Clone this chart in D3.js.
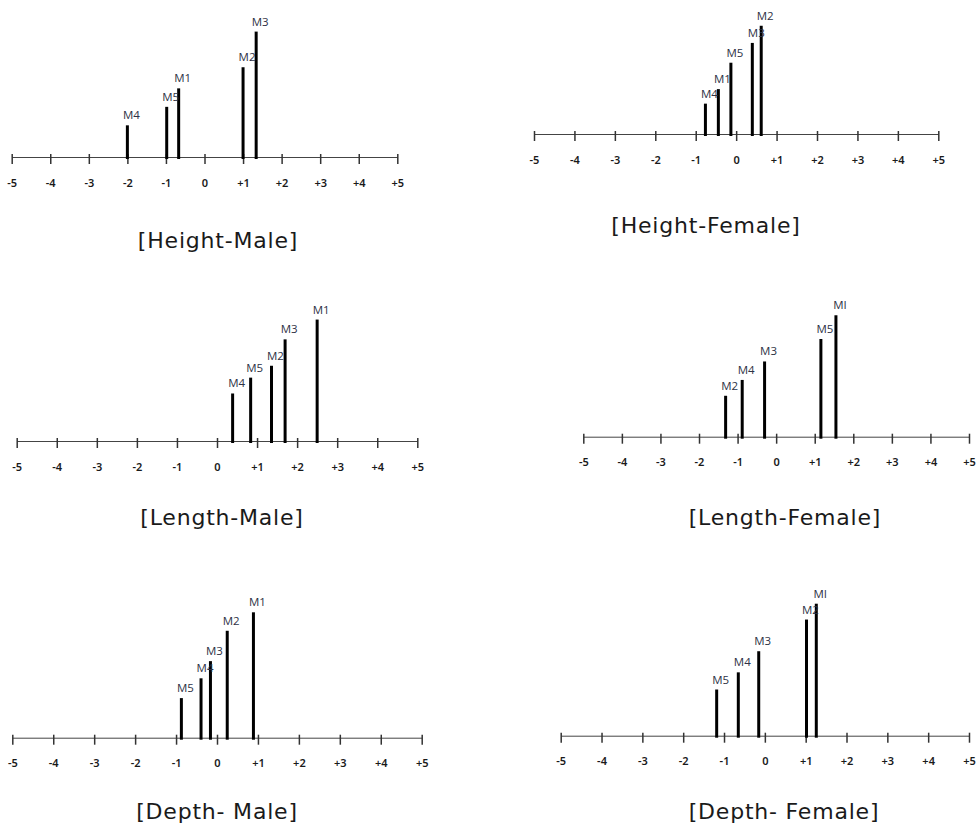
<!DOCTYPE html>
<html>
<head>
<meta charset="utf-8">
<script src="https://cdn.jsdelivr.net/npm/d3@7"></script>
<style>
  body { margin: 0; background: #fff; }
  svg { display: block; }
</style>
</head>
<body>
<svg id="chart" width="978" height="831"></svg>
<script>
// tick values and their printed labels
const tickValues = [-5, -4, -3, -2, -1, 0, 1, 2, 3, 4, 5];
const tickLabels = ["-5", "-4", "-3", "-2", "-1", "0", "+1", "+2", "+3", "+4", "+5"];

// Height - Male
const heightMaleNames = ["M4", "M5", "M1", "M2", "M3"];
const heightMaleScore = [-2.0, -0.98, -0.67, 1.0, 1.34];
const heightMaleValue = [24, 38, 52, 68, 95];

// Height - Female
const heightFemaleNames = ["M4", "M1", "M5", "M3", "M2"];
const heightFemaleScore = [-0.76, -0.44, -0.13, 0.4, 0.62];
const heightFemaleValue = [23, 34, 54, 69, 82];

// Length - Male
const lengthMaleNames = ["M4", "M5", "M2", "M3", "M1"];
const lengthMaleScore = [0.39, 0.84, 1.36, 1.7, 2.5];
const lengthMaleValue = [36, 48, 57, 77, 92];

// Length - Female
const lengthFemaleNames = ["M2", "M4", "M3", "M5", "MI"];
const lengthFemaleScore = [-1.31, -0.88, -0.3, 1.16, 1.55];
const lengthFemaleValue = [31, 43, 57, 74, 92];

// Depth - Male
const depthMaleNames = ["M5", "M4", "M3", "M2", "M1"];
const depthMaleScore = [-0.87, -0.39, -0.16, 0.25, 0.89];
const depthMaleValue = [30, 45, 58, 81, 95];

// Depth - Female
const depthFemaleNames = ["M5", "M4", "M3", "M2", "MI"];
const depthFemaleScore = [-1.18, -0.65, -0.15, 1.02, 1.26];
const depthFemaleValue = [35, 48, 64, 88, 100];

const zip = (names, xs, ys) => names.map((n, i) => ({ name: n, x: xs[i], v: ys[i] }));

// layout of the six small panels
const panels = [
  { title: "[Height-Male]", data: zip(heightMaleNames, heightMaleScore, heightMaleValue),
    left: 11.7, right: 397.3, axisY: 157, capX: 218, capY: 248 },
  { title: "[Height-Female]", data: zip(heightFemaleNames, heightFemaleScore, heightFemaleValue),
    left: 534, right: 938.3, axisY: 134, capX: 706, capY: 233 },
  { title: "[Length-Male]", data: zip(lengthMaleNames, lengthMaleScore, lengthMaleValue),
    left: 16.7, right: 417.3, axisY: 441, capX: 222, capY: 525 },
  { title: "[Length-Female]", data: zip(lengthFemaleNames, lengthFemaleScore, lengthFemaleValue),
    left: 583.3, right: 969, axisY: 436.7, capX: 785, capY: 525 },
  { title: "[Depth- Male]", data: zip(depthMaleNames, depthMaleScore, depthMaleValue),
    left: 12.3, right: 421.7, axisY: 737.7, capX: 217, capY: 819 },
  { title: "[Depth- Female]", data: zip(depthFemaleNames, depthFemaleScore, depthFemaleValue),
    left: 560.7, right: 969, axisY: 735.7, capX: 784, capY: 819 },
];

const svg = d3.select("#chart");

panels.forEach((p) => {
  const g = svg.append("g");

  const x = d3.scaleLinear().domain([-5, 5]).range([p.left, p.right]);
  const y = d3.scaleLinear().domain([0, 100]).range([p.axisY, p.axisY - 132]);

  const axis = d3
    .axisBottom(x)
    .tickValues(tickValues)
    .tickFormat((d, i) => tickLabels[i])
    .tickSizeInner(7)
    .tickSizeOuter(0)
    .tickPadding(15);

  const ax = g.append("g").attr("transform", `translate(0,${p.axisY})`).call(axis);
  ax.select(".domain").attr("stroke", "#444").attr("stroke-width", 1);
  ax.selectAll(".tick line")
    .attr("y1", -3)
    .attr("stroke", "#333")
    .attr("stroke-width", 1.5);
  ax.selectAll(".tick text")
    .attr("fill", "#1a1a1a")
    .style("font-family", "'Noto Sans', sans-serif")
    .style("font-weight", "600")
    .style("font-size", "11px");

  // bars
  g.selectAll(".bar")
    .data(p.data)
    .enter()
    .append("line")
    .attr("class", "bar")
    .attr("x1", (d) => x(d.x))
    .attr("x2", (d) => x(d.x))
    .attr("y1", y(0) + 2)
    .attr("y2", (d) => y(d.v))
    .attr("stroke", "#000")
    .attr("stroke-width", 3);

  // labels above bars
  g.selectAll(".lbl")
    .data(p.data)
    .enter()
    .append("text")
    .attr("class", "lbl")
    .attr("x", (d) => x(d.x) + 4)
    .attr("y", (d) => y(d.v) - 6)
    .attr("text-anchor", "middle")
    .attr("fill", "#2e3245")
    .style("font-family", "'Open Sans', sans-serif")
    .style("font-size", "11.5px")
    .text((d) => d.name);

  // caption
  g.append("text")
    .attr("x", p.capX)
    .attr("y", p.capY)
    .attr("text-anchor", "middle")
    .attr("fill", "#1a1a1a")
    .style("font-family", "'DejaVu Sans', sans-serif")
    .style("font-size", "22px")
    .style("letter-spacing", "0.8px")
    .text(p.title);
});
</script>
</body>
</html>
